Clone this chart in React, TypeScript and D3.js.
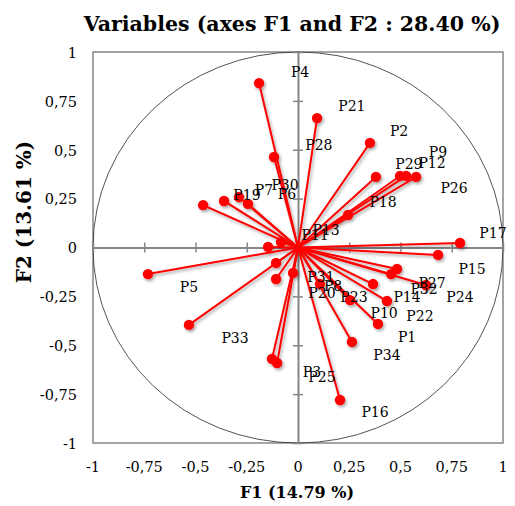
import React, { useEffect, useRef } from 'react';
import * as d3 from 'd3';

// variable names and their coordinates on F1 / F2
const names = [
  'P1', 'P2', 'P3', 'P4', 'P5', 'P6', 'P7', 'P8', 'P9', 'P10', 'P11', 'P12',
  'P13', 'P14', 'P15', 'P16', 'P17', 'P18', 'P19', 'P20', 'P21', 'P22', 'P23',
  'P24', 'P25', 'P26', 'P27', 'P28', 'P29', 'P30', 'P31', 'P32', 'P33', 'P34',
];
const f1 = [
  0.39, 0.351, -0.127, -0.19, -0.732, -0.244, -0.361, -0.024, 0.527, 0.254,
  -0.146, 0.498, -0.083, 0.366, 0.683, 0.205, 0.79, 0.244, -0.463, -0.107,
  0.093, 0.434, 0.107, 0.624, -0.102, 0.576, 0.483, -0.117, 0.38, -0.288,
  -0.107, 0.454, -0.532, 0.263,
];
const f2 = [
  -0.391, 0.535, -0.57, 0.841, -0.136, 0.223, 0.238, -0.13, 0.366, -0.269,
  0.003, 0.366, 0.028, -0.187, -0.038, -0.78, 0.023, 0.166, 0.217, -0.161,
  0.662, -0.274, -0.187, -0.192, -0.591, 0.361, -0.11, 0.463, 0.361, 0.258,
  -0.079, -0.136, -0.396, -0.483,
];
// where each label sits, in the same F1 / F2 units
const labelF1 = [
  0.532, 0.493, 0.068, 0.01, -0.532, -0.054, -0.166, 0.171, 0.683, 0.42,
  0.083, 0.654, 0.137, 0.532, 0.849, 0.376, 0.951, 0.415, -0.249, 0.117,
  0.263, 0.595, 0.273, 0.79, 0.117, 0.761, 0.654, 0.102, 0.541, -0.063,
  0.112, 0.615, -0.307, 0.434,
];
const labelF2 = [
  -0.458, 0.596, -0.637, 0.898, -0.202, 0.274, 0.294, -0.197, 0.488, -0.335,
  0.064, 0.432, 0.09, -0.253, -0.11, -0.841, 0.074, 0.233, 0.269, -0.233,
  0.724, -0.35, -0.253, -0.253, -0.662, 0.304, -0.182, 0.524, 0.427, 0.32,
  -0.151, -0.212, -0.463, -0.55,
];

const tickValues = [-1, -0.75, -0.5, -0.25, 0, 0.25, 0.5, 0.75, 1];
const tickLabels = ['-1', '-0,75', '-0,5', '-0,25', '0', '0,25', '0,5', '0,75', '1'];

const title = 'Variables (axes F1 and F2 : 28.40 %)';
const xTitle = 'F1 (14.79 %)';
const yTitle = 'F2 (13.61 %)';

const App: React.FC = () => {
  const ref = useRef<SVGSVGElement>(null);
  const W = 515;
  const H = 506;
  const box = { left: 93, right: 503, top: 52, bottom: 443 };
  const font = '"DejaVu Serif", serif';
  const grey = '#868686';

  useEffect(() => {
    if (!ref.current) return;
    const svg = d3.select(ref.current);
    svg.selectAll('*').remove();

    const x = d3.scaleLinear().domain([-1, 1]).range([box.left, box.right]);
    const y = d3.scaleLinear().domain([-1, 1]).range([box.bottom, box.top]);

    const defs = svg.append('defs');
    defs
      .append('filter')
      .attr('id', 'shadow')
      .attr('x', '-20%')
      .attr('y', '-20%')
      .attr('width', '140%')
      .attr('height', '140%')
      .append('feDropShadow')
      .attr('dx', 1.5)
      .attr('dy', 2)
      .attr('stdDeviation', 1.5)
      .attr('flood-color', '#000')
      .attr('flood-opacity', 0.35);

    // title
    svg
      .append('text')
      .attr('x', 292)
      .attr('y', 31)
      .attr('text-anchor', 'middle')
      .style('font-family', font)
      .style('font-weight', 'bold')
      .style('font-size', '20.5px')
      .text(title);

    // plot frame
    svg
      .append('rect')
      .attr('x', box.left)
      .attr('y', box.top)
      .attr('width', box.right - box.left)
      .attr('height', box.bottom - box.top)
      .attr('fill', 'none')
      .attr('stroke', grey)
      .attr('stroke-width', 1.5);

    // correlation circle
    svg
      .append('ellipse')
      .attr('cx', x(0))
      .attr('cy', y(0))
      .attr('rx', x(1) - x(0))
      .attr('ry', y(0) - y(1))
      .attr('fill', 'none')
      .attr('stroke', '#404040')
      .attr('stroke-width', 0.9);

    // axes through the origin
    svg
      .append('g')
      .attr('transform', `translate(0,${y(0)})`)
      .call(
        d3
          .axisBottom(x)
          .tickValues(tickValues)
          .tickSize(0)
          .tickFormat(() => '')
      )
      .call((g) => g.select('.domain').attr('stroke', grey).attr('stroke-width', 2))
      .call((g) =>
        g
          .selectAll('.tick line')
          .attr('stroke', grey)
          .attr('stroke-width', 1.5)
          .attr('y1', -5)
          .attr('y2', 5)
      );

    svg
      .append('g')
      .attr('transform', `translate(${x(0)},0)`)
      .call(
        d3
          .axisLeft(y)
          .tickValues(tickValues)
          .tickSize(0)
          .tickFormat(() => '')
      )
      .call((g) => g.select('.domain').attr('stroke', grey).attr('stroke-width', 2))
      .call((g) =>
        g
          .selectAll('.tick line')
          .attr('stroke', grey)
          .attr('stroke-width', 1.5)
          .attr('x1', -5)
          .attr('x2', 5)
      );

    // tick labels on the frame
    svg
      .append('g')
      .selectAll('text')
      .data(tickValues)
      .join('text')
      .attr('x', (d) => x(d))
      .attr('y', 472)
      .attr('text-anchor', 'middle')
      .style('font-family', font)
      .style('font-size', '14.5px')
      .text((d, i) => tickLabels[i]);

    svg
      .append('g')
      .selectAll('text')
      .data(tickValues)
      .join('text')
      .attr('x', 77)
      .attr('y', (d) => y(d))
      .attr('dy', '0.4em')
      .attr('text-anchor', 'end')
      .style('font-family', font)
      .style('font-size', '14.5px')
      .text((d, i) => tickLabels[i]);

    // axis titles
    svg
      .append('text')
      .attr('x', 297)
      .attr('y', 498)
      .attr('text-anchor', 'middle')
      .style('font-family', font)
      .style('font-weight', 'bold')
      .style('font-size', '16px')
      .text(xTitle);

    svg
      .append('text')
      .attr('transform', `translate(31,212) rotate(-90)`)
      .attr('text-anchor', 'middle')
      .style('font-family', font)
      .style('font-weight', 'bold')
      .style('font-size', '20px')
      .text(yTitle);

    const pts = names.map((n, i) => ({ n, a: f1[i], b: f2[i], la: labelF1[i], lb: labelF2[i] }));

    // vectors + points
    const series = svg.append('g').attr('filter', 'url(#shadow)');
    series
      .selectAll('line')
      .data(pts)
      .join('line')
      .attr('x1', x(0))
      .attr('y1', y(0))
      .attr('x2', (d) => x(d.a))
      .attr('y2', (d) => y(d.b))
      .attr('stroke', '#ff0000')
      .attr('stroke-width', 2);

    series
      .selectAll('circle')
      .data(pts)
      .join('circle')
      .attr('cx', (d) => x(d.a))
      .attr('cy', (d) => y(d.b))
      .attr('r', 5.2)
      .attr('fill', '#ff0000');

    // labels
    svg
      .append('g')
      .selectAll('text')
      .data(pts)
      .join('text')
      .attr('x', (d) => x(d.la))
      .attr('y', (d) => y(d.lb))
      .attr('dy', '0.36em')
      .attr('text-anchor', 'middle')
      .style('font-family', font)
      .style('font-size', '14px')
      .text((d) => d.n);
  }, []);

  return (
    <svg
      ref={ref}
      width={W}
      height={H}
      style={{ position: 'absolute', left: 0, top: 0, background: '#fff' }}
    />
  );
};

export default App;
